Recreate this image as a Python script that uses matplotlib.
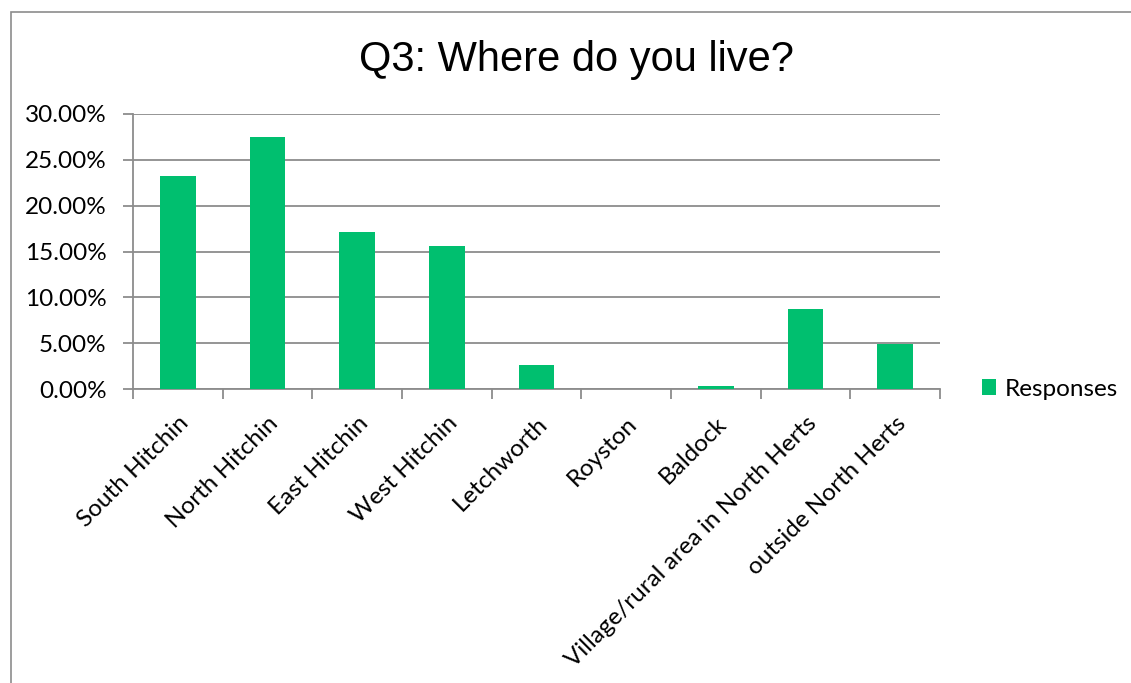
import matplotlib.pyplot as plt
from matplotlib.patches import Rectangle
from matplotlib.ticker import FixedLocator, PercentFormatter
import numpy as np

categories = ["South Hitchin", "North Hitchin", "East Hitchin", "West Hitchin",
              "Letchworth", "Royston", "Baldock",
              "Village/rural area in North Herts", "outside North Herts"]
responses = [23.2, 27.5, 17.1, 15.6, 2.6, 0.0, 0.3, 8.7, 4.9]
yticks = [0, 5, 10, 15, 20, 25, 30]

green = "#00BF6F"
grid_col = "#8C8C8C"

fig = plt.figure(figsize=(11.31, 6.83), dpi=100)
ax = fig.add_axes([133 / 1131, 1 - 389 / 683, (940 - 133) / 1131, (389 - 114) / 683])

# outer frame of the chart area
fig.patches.append(Rectangle((11 / 1131, -0.01), 1.1, 1 - 12 / 683 + 0.01,
                             transform=fig.transFigure, fill=False,
                             edgecolor="#8C8C8C", linewidth=1.2))

x = np.arange(len(categories))
ax.bar(x, responses, width=0.4, color=green, label="Responses", zorder=3)

ax.set_xlim(-0.5, len(categories) - 0.5)
ax.set_ylim(0, 30)
ax.set_yticks(yticks)
ax.yaxis.set_major_formatter(PercentFormatter(decimals=2))
ax.yaxis.grid(True, color=grid_col, linewidth=1.3, zorder=0)

# category ticks sit on the boundaries, labels at centres
ax.set_xticks(x)
ax.set_xticklabels(categories, rotation=45, ha="right", rotation_mode="anchor",
                   fontsize=17.5, family="Lato")
ax.xaxis.set_minor_locator(FixedLocator(np.arange(-0.5, len(categories), 1)))
ax.tick_params(axis="x", which="major", length=0, pad=17)
ax.tick_params(axis="x", which="minor", length=7, width=1.3, color=grid_col)
ax.tick_params(axis="y", length=7, width=1.3, color=grid_col, labelsize=17.5, pad=12)
for lab in ax.get_yticklabels():
    lab.set_family("Lato")

for side in ["top", "right"]:
    ax.spines[side].set_visible(False)
for side in ["left", "bottom"]:
    ax.spines[side].set_color(grid_col)
    ax.spines[side].set_linewidth(1.3)

fig.text(576 / 1131, 1 - 60 / 683, "Q3: Where do you live?", ha="center", va="center",
         fontsize=30, family="Liberation Sans")

ax.legend(loc="center left", bbox_to_anchor=(960 / 1131, 1 - 389 / 683),
          bbox_transform=fig.transFigure, frameon=False, handlelength=0.6,
          handleheight=0.6, handletextpad=0.35, prop={"family": "Lato", "size": 17.5})

fig.savefig("out.png", dpi=100, facecolor="white")
